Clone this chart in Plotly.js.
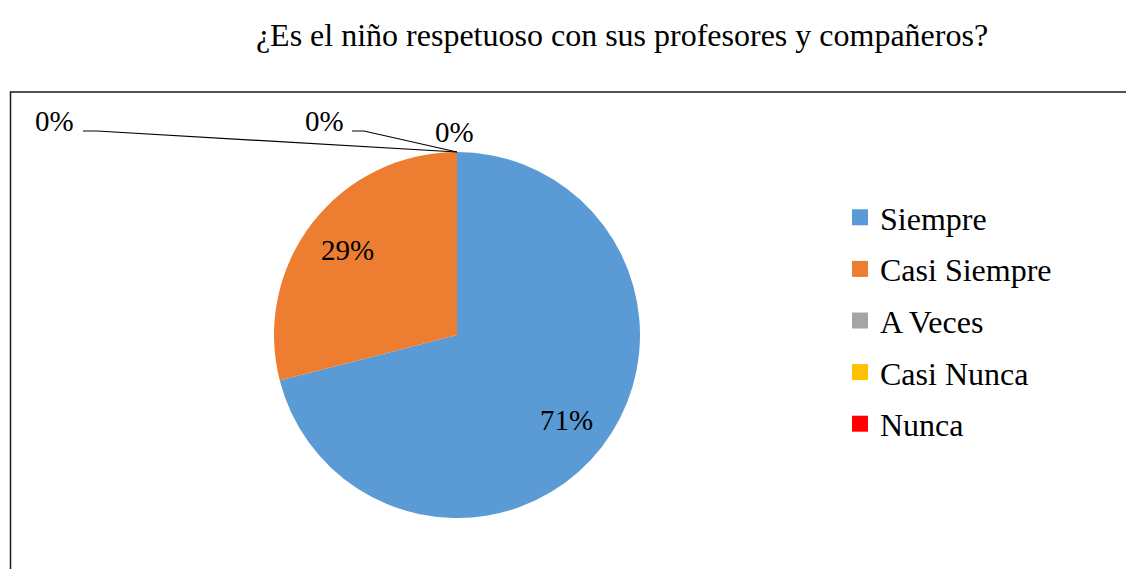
<!DOCTYPE html>
<html><head><meta charset="utf-8">
<script src="https://cdn.plot.ly/plotly-3.0.1.min.js"></script>
<style>html,body{margin:0;padding:0;background:#fff;}</style>
</head><body><div id="chart" style="width:1126px;height:569px;"></div>
<script>
const titleText = '¿Es el niño respetuoso con sus profesores y compañeros?';
const categories = ['Siempre', 'Casi Siempre', 'A Veces', 'Casi Nunca', 'Nunca'];
const values = [71, 29, 0, 0, 0];
const colors = ['#5B9BD5', '#ED7D31', '#A5A5A5', '#FFC000', '#FF0000'];

const W = 1126, H = 569;
const FONT = 'Liberation Serif, Times New Roman, serif';
const px = x => x / W;
const py = y => 1 - y / H;

// pie geometry (pixels)
const cx = 457, cy = 335, r = 183;
const labelR = 0.76 * r;

const total = values.reduce((a, b) => a + b, 0);
const fmtPct = v => Math.round(v / total * 100) + '%';

const traces = [{
  type: 'pie',
  labels: categories,
  values: values,
  sort: false,
  direction: 'clockwise',
  rotation: 0,
  marker: {colors: colors, line: {width: 0}},
  textinfo: 'none',
  showlegend: false,
  hoverinfo: 'label+percent',
  domain: {x: [px(cx - r), px(cx + r)], y: [py(cy + r), py(cy - r)]}
}];

// legend entries driven by the categories
categories.forEach((c, i) => {
  traces.push({
    type: 'scatter', mode: 'markers', x: [null], y: [null],
    name: c, legendgroup: 'g' + i,
    marker: {symbol: 'square', size: 16, color: colors[i]},
    hoverinfo: 'skip'
  });
});

// placement of the zero-value labels (layout only)
const zeroPlaces = [
  {x: 54, y: 121, line: [[83, 131], [97, 131], [457, 152]]},
  {x: 324, y: 121, line: [[352, 131], [364, 131], [457, 152]]},
  {x: 454, y: 132, line: null}
];

const annotations = [];
const shapes = [{
  type: 'rect', xref: 'paper', yref: 'paper',
  x0: px(10.5), x1: px(W + 20), y0: py(H + 20), y1: py(92),
  line: {color: '#1a1a1a', width: 1.5}, fillcolor: 'rgba(0,0,0,0)', layer: 'below'
}];

let zi = 0, cum = 0;
values.forEach((v, i) => {
  if (v > 0) {
    const mid = (cum + v / 2) / total * 2 * Math.PI; // clockwise from 12 o'clock
    annotations.push({
      xref: 'paper', yref: 'paper',
      x: px(cx + Math.sin(mid) * labelR), y: py(cy - Math.cos(mid) * labelR),
      xanchor: 'center', yanchor: 'middle', showarrow: false,
      text: fmtPct(v), font: {family: FONT, size: 29, color: '#000'}
    });
  } else if (zi < zeroPlaces.length) {
    const p = zeroPlaces[zi++];
    annotations.push({
      xref: 'paper', yref: 'paper', x: px(p.x), y: py(p.y),
      xanchor: 'center', yanchor: 'middle', showarrow: false,
      text: fmtPct(v), font: {family: FONT, size: 29, color: '#000'}
    });
    if (p.line) {
      const d = p.line.map((pt, k) => (k ? 'L' : 'M') + px(pt[0]) + ',' + py(pt[1])).join(' ');
      shapes.push({type: 'path', xref: 'paper', yref: 'paper', path: d,
        line: {color: '#000', width: 1.2}});
    }
  }
  cum += v;
});

const layout = {
  width: W, height: H,
  margin: {l: 0, r: 0, t: 0, b: 0},
  paper_bgcolor: '#fff', plot_bgcolor: '#fff',
  title: {text: titleText, x: px(622), xanchor: 'center', y: py(35), yanchor: 'middle',
    font: {family: FONT, size: 32, color: '#000'}},
  xaxis: {visible: false}, yaxis: {visible: false},
  showlegend: true,
  legend: {
    x: px(840), xanchor: 'left', y: py(190), yanchor: 'top',
    font: {family: FONT, size: 32, color: '#000'},
    traceorder: 'grouped', tracegroupgap: 7,
    bgcolor: 'rgba(0,0,0,0)', itemclick: false
  },
  annotations: annotations,
  shapes: shapes
};

Plotly.newPlot('chart', traces, layout, {displayModeBar: false, staticPlot: true});
</script></body></html>
